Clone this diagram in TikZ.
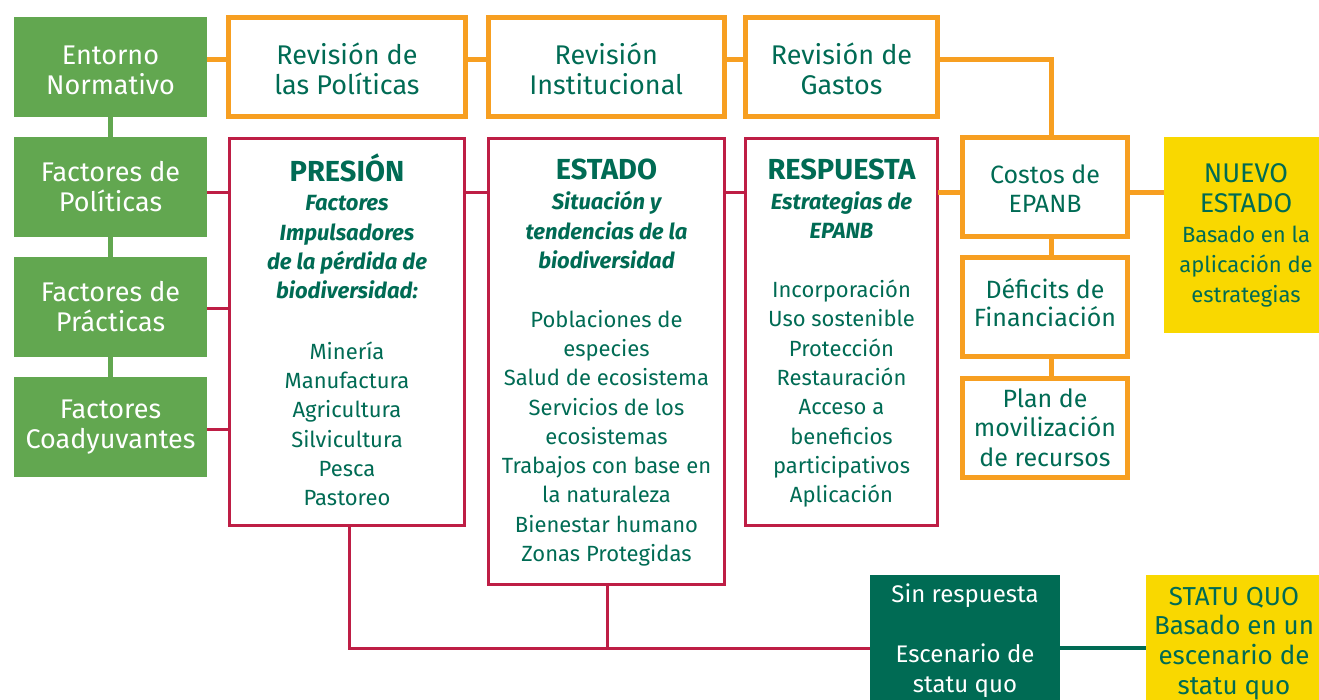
\documentclass[tikz,border=0pt]{standalone}
\usepackage{fontspec}
\setmainfont{Fira Sans}
\definecolor{gfill}{HTML}{62A750}
\definecolor{orng}{HTML}{F79F21}
\definecolor{crim}{HTML}{BE1E45}
\definecolor{dkg}{HTML}{006B54}
\definecolor{ylw}{HTML}{F9D800}
\newcommand\hdx[1]{{\fontsize{29}{30}\selectfont\bfseries\vphantom{E}\smash{#1}}}
\newcommand\bix[1]{{\bfseries\itshape #1}}
\newcommand\bigx[1]{{\fontsize{27}{30}\selectfont #1}}
\begin{document}
\begin{tikzpicture}[x=1pt,y=-1pt,
  every node/.style={inner sep=0pt, outer sep=0pt, align=center},
  lbl/.style={font=\fontsize{27}{30}\selectfont},
  gbox/.style={fill=gfill, text=white, minimum width=193, minimum height=100, lbl},
  obox/.style={draw=orng, line width=5pt, minimum height=99},
  otext/.style={text=dkg, lbl},
  cbox/.style={draw=orng, line width=5pt, text=dkg, minimum width=165, minimum height=99, font=\fontsize{25}{28.5}\selectfont},
  rbox/.style={draw=crim, line width=2.5pt},
  rtext/.style={text=dkg, font=\fontsize{22}{29.3}\selectfont},
  ybox/.style={fill=ylw, text=dkg},
  gline/.style={draw=gfill, line width=4.5pt},
  oline/.style={draw=orng, line width=5pt},
  rline/.style={draw=crim, line width=3pt},
  dline/.style={draw=dkg, line width=4pt}
]
\useasboundingbox (0,0) rectangle (1319,700);

% green column
\node[gbox] (entorno) at (110.5,67) {};
\node[lbl, text=white] (entornoT) at (110.5,70) {Entorno\\Normativo};
\node[gbox] (fpol) at (110.5,187) {Factores de\\Políticas};
\node[gbox] (fpra) at (110.5,307) {Factores de\\Prácticas};
\node[gbox] (fcoa) at (110.5,427) {Factores\\Coadyuvantes};

% top orange row
\node[obox, minimum width=237] (revpol) at (347,67) {};
\node[otext] (revpolT) at (347,69) {Revisión de\\las Políticas};
\node[obox, minimum width=236.5] (revins) at (606.25,67) {};
\node[otext] (revinsT) at (606.25,69) {Revisión\\Institucional};
\node[obox, minimum width=192] (revgas) at (841.5,67) {};
\node[otext] (revgasT) at (841.5,69) {Revisión de\\Gastos};

% red boxes
\node[rbox, minimum width=235, minimum height=387] (pres) at (347,332) {};
\node[rtext] (presT) at (347,333.5)
 {\hdx{PRESIÓN}\\[0.5pt]\bix{Factores}\\\bix{Impulsadores}\\\bix{de la pérdida de}\\\bix{biodiversidad:}\\[31pt]Minería\\Manufactura\\Agricultura\\Silvicultura\\Pesca\\Pastoreo};
\node[rbox, minimum width=236, minimum height=446] (estado) at (606.5,361.5) {};
\node[rtext] (estadoT) at (606.5,363)
 {\hdx{ESTADO}\\[0.5pt]\bix{Situación y}\\\bix{tendencias de la}\\\bix{biodiversidad}\\[29.5pt]Poblaciones de\\especies\\Salud de ecosistema\\Servicios de los\\ecosistemas\\Trabajos con base en\\la naturaleza\\Bienestar humano\\Zonas Protegidas};
\node[rbox, minimum width=192, minimum height=387] (resp) at (841.5,332) {};
\node[rtext] (respT) at (841.5,333.5)
 {\hdx{RESPUESTA}\\[0.5pt]\bix{Estrategias de}\\\bix{EPANB}\\[29.5pt]Incorporación\\Uso sostenible\\Protección\\Restauración\\Acceso a\\beneficios\\participativos\\Aplicación};

% right orange column
\node[cbox] (costos) at (1045,187) {};
\node[text=dkg, font=\fontsize{25}{28.5}\selectfont] (costosT) at (1045,188.5) {Costos de\\EPANB};
\node[cbox] (deficit) at (1045,307) {};
\node[text=dkg, font=\fontsize{25}{28.5}\selectfont] (deficitT) at (1045,302.5) {Déficits de\\Financiación};
\node[cbox, font=\fontsize{25}{29.5}\selectfont] (plan) at (1045,427.5) {Plan de\\movilización\\de recursos};

% yellow and dark green boxes
\node[ybox, minimum width=164, minimum height=196, font=\fontsize{22}{30}\selectfont] (nuevo) at (1246,235)
 {\bigx{NUEVO}\\\bigx{ESTADO}\\Basado en la\\aplicación de\\estrategias};
\node[fill=dkg, text=white, minimum width=190, minimum height=132, font=\fontsize{24}{30}\selectfont] (sinresp) at (965,641)
 {Sin respuesta\\[30pt]Escenario de\\statu quo};
\node[ybox, minimum width=176, minimum height=137, font=\fontsize{26}{29.7}\selectfont] (statu) at (1234,643.5)
 {STATU QUO\\Basado en un\\escenario de\\statu quo};

% coordinates
\coordinate (jn) at (607,648);

% green connectors
\draw[gline] (entorno.south) -- (fpol.north);
\draw[gline] (fpol.south) -- (fpra.north);
\draw[gline] (fpra.south) -- (fcoa.north);

% orange connectors
\draw[oline] (entorno.east |- 0,60) -- (revpol.west |- 0,60);
\draw[oline] (revpol.east |- 0,60) -- (revins.west |- 0,60);
\draw[oline] (revins.east |- 0,60) -- (revgas.west |- 0,60);
\draw[oline] (revgas.east |- 0,60) -| (1051,0 |- costos.north);
\draw[oline] (resp.east |- 0,193) -- (costos.west |- 0,193);
\draw[oline] (costos.east |- 0,193) -- (nuevo.west |- 0,193);
\draw[oline] (1051,0 |- costos.south) -- (1051,0 |- deficit.north);
\draw[oline] (1051,0 |- deficit.south) -- (1051,0 |- plan.north);

% red connectors
\draw[rline] (fpol.east |- 0,193) -- (pres.west |- 0,193);
\draw[rline] (fpra.east |- 0,309) -- (pres.west |- 0,309);
\draw[rline] (fcoa.east |- 0,429) -- (pres.west |- 0,429);
\draw[rline] (pres.east |- 0,193) -- (estado.west |- 0,193);
\draw[rline] (estado.east |- 0,193) -- (resp.west |- 0,193);
\draw[rline] (349,0 |- pres.south) -- (349,0 |- jn) -- (sinresp.west |- jn);
\draw[rline] (jn |- estado.south) -- (jn);

% dark green connector
\draw[dline] (sinresp.east |- jn) -- (statu.west |- jn);
\end{tikzpicture}
\end{document}
